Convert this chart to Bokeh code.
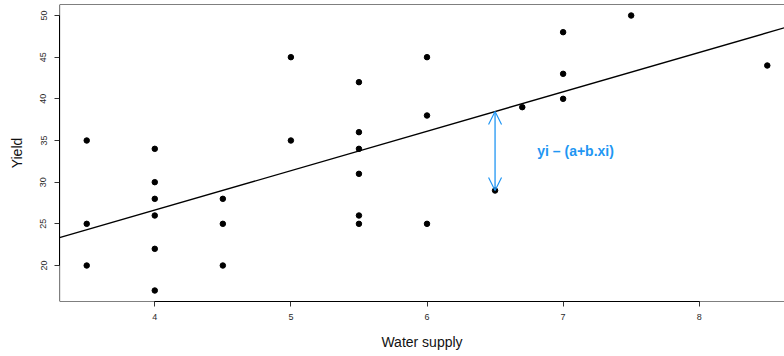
import numpy as np
from bokeh.plotting import figure
from bokeh.models import Range1d, FixedTicker, Span, Arrow, OpenHead, Label
from bokeh.embed import file_html
from bokeh.resources import INLINE

# Yield observed at each level of water supply
water = [3.5, 3.5, 3.5,
         4, 4, 4, 4, 4, 4,
         4.5, 4.5, 4.5,
         5, 5,
         5.5, 5.5, 5.5, 5.5, 5.5, 5.5,
         6, 6, 6,
         6.5,
         6.7,
         7, 7, 7,
         7.5,
         8.5]
crop_yield = [35, 25, 20,
              34, 30, 28, 26, 22, 17,
              28, 25, 20,
              45, 35,
              42, 36, 34, 31, 26, 25,
              45, 38, 25,
              29,
              39,
              48, 43, 40,
              50,
              44]
x_ticks = [4, 5, 6, 7, 8]
y_ticks = [20, 25, 30, 35, 40, 45, 50]
residual_index = 23  # observation whose residual is annotated

BLUE = "#2196F3"
FONT = "Liberation Sans"

# least-squares line y = a + b.x
b, a = np.polyfit(water, crop_yield, 1)

# R-style 4% padding around the data
xpad = 0.04 * (max(water) - min(water))
ypad = 0.04 * (max(crop_yield) - min(crop_yield))
x_lo, x_hi = min(water) - xpad, max(water) + xpad
y_lo, y_hi = min(crop_yield) - ypad, max(crop_yield) + ypad

W, H = 784, 356
left_border, top_border, bottom_border = 59, 4, 55
# the panel is cut off on the right, just before the box edge
frame_w = W - left_border
x_visible_hi = x_lo + (x_hi - x_lo) * frame_w / (frame_w + 10)

p = figure(width=W, height=H, output_backend="svg", toolbar_location=None,
           x_range=Range1d(x_lo, x_visible_hi), y_range=Range1d(y_lo, y_hi),
           min_border_left=left_border, min_border_top=top_border,
           min_border_bottom=bottom_border, min_border_right=0)
p.grid.visible = False
p.outline_line_color = None
p.background_fill_color = "white"
p.border_fill_color = "white"

for ax in (p.xaxis[0], p.yaxis[0]):
    ax.axis_line_color = "black"
    ax.axis_line_width = 1
    ax.major_tick_line_color = "#333"
    ax.major_tick_in = 0
    ax.major_tick_out = 5
    ax.minor_tick_line_color = None
    ax.major_label_text_font = FONT
    ax.major_label_text_font_size = "9px"
    ax.major_label_text_color = "#2a2a2a"
    ax.axis_label_text_font = FONT
    ax.axis_label_text_font_size = "14px"
    ax.axis_label_text_font_style = "normal"
    ax.axis_label_text_color = "#111"

p.xaxis[0].ticker = FixedTicker(ticks=x_ticks)
p.yaxis[0].ticker = FixedTicker(ticks=y_ticks)
p.xaxis[0].bounds = (x_ticks[0], x_ticks[-1])
p.yaxis[0].bounds = (y_ticks[0], y_ticks[-1])
p.xaxis[0].axis_label = "Water supply"
p.yaxis[0].axis_label = "Yield"
p.xaxis[0].major_label_standoff = 7
p.yaxis[0].major_label_standoff = 8
p.xaxis[0].axis_label_standoff = 11
p.yaxis[0].axis_label_standoff = 13
p.yaxis[0].major_label_orientation = "vertical"

# plot box
for loc, dim in ((x_lo, "height"), (y_lo, "width"), (y_hi, "width")):
    p.add_layout(Span(location=loc, dimension=dim, line_color="black", line_width=1.2))

# fitted line
line_x = np.array([x_lo, x_hi])
p.line(line_x, a + b * line_x, line_color="black", line_width=1.3)

# observations
p.scatter(water, crop_yield, size=5.5, color="black")

# residual arrow and label
rx = water[residual_index]
ry = crop_yield[residual_index]
fitted = a + b * rx
p.add_layout(Arrow(x_start=rx, y_start=ry, x_end=rx, y_end=fitted,
                   start=OpenHead(size=13, line_color=BLUE, line_width=1.2),
                   end=OpenHead(size=13, line_color=BLUE, line_width=1.2),
                   line_color=BLUE, line_width=1.3))
p.add_layout(Label(x=rx + 0.31, y=(ry + fitted) / 2, text="yi \u2013 (a+b.xi)",
                   text_font=FONT, text_font_size="14px", text_font_style="bold",
                   text_color=BLUE, text_align="left", text_baseline="middle"))

open("out.html", "w").write(file_html(p, INLINE))
